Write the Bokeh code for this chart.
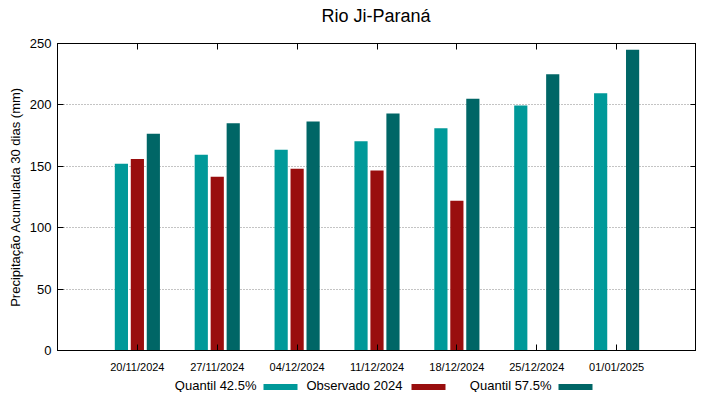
from bokeh.plotting import figure
from bokeh.models import ColumnDataSource, FixedTicker, LinearAxis, Range1d
from bokeh.layouts import column
from bokeh.core.properties import value
from bokeh.transform import dodge
from bokeh.embed import file_html
from bokeh.resources import INLINE

# ---- data ----
title_text = "Rio Ji-Paraná"
dates = ["20/11/2024", "27/11/2024", "04/12/2024", "11/12/2024",
         "18/12/2024", "25/12/2024", "01/01/2025"]
quantil_425 = [152, 159.5, 163.5, 170.5, 181, 199.5, 209.5]
observado_2024 = [156, 141.5, 148, 146.5, 122, None, None]
quantil_575 = [176.5, 185, 186.5, 193, 205, 225, 245]
y_ticks = [0, 50, 100, 150, 200, 250]
legend_labels = ["Quantil 42.5%", "Observado 2024", "Quantil 57.5%"]

C_Q425 = "#009999"
C_OBS = "#990e0e"
C_Q575 = "#006666"
legend_colors = [C_Q425, C_OBS, C_Q575]
FONT = "Liberation Sans"
FRAME_W = 639
MARGIN = (0, 0, 0, 4)

xs = list(range(len(dates)))
src = ColumnDataSource(dict(x=xs, q425=quantil_425, q575=quantil_575))
obs_idx = [i for i, v in enumerate(observado_2024) if v is not None]
src_obs = ColumnDataSource(dict(x=obs_idx, obs=[observado_2024[i] for i in obs_idx]))


def strip(h):
    f = figure(frame_width=FRAME_W, frame_height=h,
               x_range=Range1d(0, FRAME_W), y_range=Range1d(0, h),
               output_backend="svg", toolbar_location=None, margin=MARGIN,
               min_border=0, outline_line_color=None)
    f.axis.visible = False
    f.grid.visible = False
    return f


# ---- title strip ----
TITLE_H = 26
tfig = strip(TITLE_H)
tfig.text(x=[FRAME_W / 2 - 1], y=[11], text=[title_text], text_align="center",
          text_baseline="alphabetic", text_font=value(FONT),
          text_font_size="18px", text_color="black")

# ---- main chart ----
p = figure(frame_width=FRAME_W, frame_height=307,
           x_range=Range1d(-1, len(dates)), y_range=Range1d(0, 250),
           output_backend="svg", toolbar_location=None, margin=MARGIN,
           min_border=0, min_border_top=17)

bw = 0.165
p.vbar(x=dodge("x", -0.2, range=p.x_range), top="q425", width=bw, source=src,
       fill_color=C_Q425, line_color=None)
p.vbar(x=dodge("x", 0.0, range=p.x_range), top="obs", width=bw, source=src_obs,
       fill_color=C_OBS, line_color=None)
p.vbar(x=dodge("x", 0.2, range=p.x_range), top="q575", width=bw, source=src,
       fill_color=C_Q575, line_color=None)

p.xaxis.ticker = FixedTicker(ticks=xs)
p.xaxis.major_label_overrides = {i: d for i, d in enumerate(dates)}
p.yaxis.ticker = FixedTicker(ticks=y_ticks)
for ax in (p.xaxis[0], p.yaxis[0]):
    ax.major_tick_in = 6
    ax.major_tick_out = 0
    ax.minor_tick_line_color = None
    ax.axis_line_color = "black"
    ax.major_tick_line_color = "black"
    ax.major_label_text_font = FONT
    ax.major_label_text_color = "black"
p.xaxis.major_label_text_font_size = "11px"
p.xaxis.major_label_standoff = 10
p.yaxis.major_label_text_font_size = "13px"
p.yaxis.major_label_standoff = 6
p.yaxis.axis_label = "Precipitação Acumulada 30 dias (mm)"
p.yaxis.axis_label_text_font = FONT
p.yaxis.axis_label_text_font_size = "13px"
p.yaxis.axis_label_text_font_style = "normal"
p.yaxis.axis_label_text_color = "black"
p.yaxis.axis_label_standoff = 4

top_ax = LinearAxis(ticker=FixedTicker(ticks=xs),
                    major_label_overrides={i: "" for i in xs},
                    major_tick_in=6, major_tick_out=0, minor_tick_line_color=None,
                    axis_line_color="black", major_label_standoff=0)
right_ax = LinearAxis(ticker=FixedTicker(ticks=y_ticks),
                      major_label_overrides={t: "" for t in y_ticks},
                      major_tick_in=6, major_tick_out=0, minor_tick_line_color=None,
                      axis_line_color="black", major_label_standoff=0)
p.add_layout(top_ax, "above")
p.add_layout(right_ax, "right")

p.xgrid.grid_line_color = None
p.ygrid.grid_line_color = "#888888"
p.ygrid.grid_line_dash = "1 2"
p.ygrid.grid_line_width = 1
p.outline_line_color = "black"

# ---- legend strip (label to the left of its sample, as in the reference) ----
LEG_H = 17
leg = strip(LEG_H)
text_right = [199, 345, 494]
sample_left = [206, 354, 501]
sample_w = 34
leg_src = ColumnDataSource(dict(
    tx=text_right, ty=[7] * 3, label=legend_labels,
    bx=[s + sample_w / 2 for s in sample_left], by=[5.5] * 3, color=legend_colors))
leg.text(x="tx", y="ty", text="label", source=leg_src, text_align="right",
         text_baseline="middle", text_font=value(FONT), text_font_size="13px",
         text_color="black")
leg.rect(x="bx", y="by", width=sample_w, height=6, height_units="screen",
         fill_color="color", line_color=None, source=leg_src)

layout = column(tfig, p, leg, spacing=0)
open("out.html", "w").write(file_html(layout, INLINE))
